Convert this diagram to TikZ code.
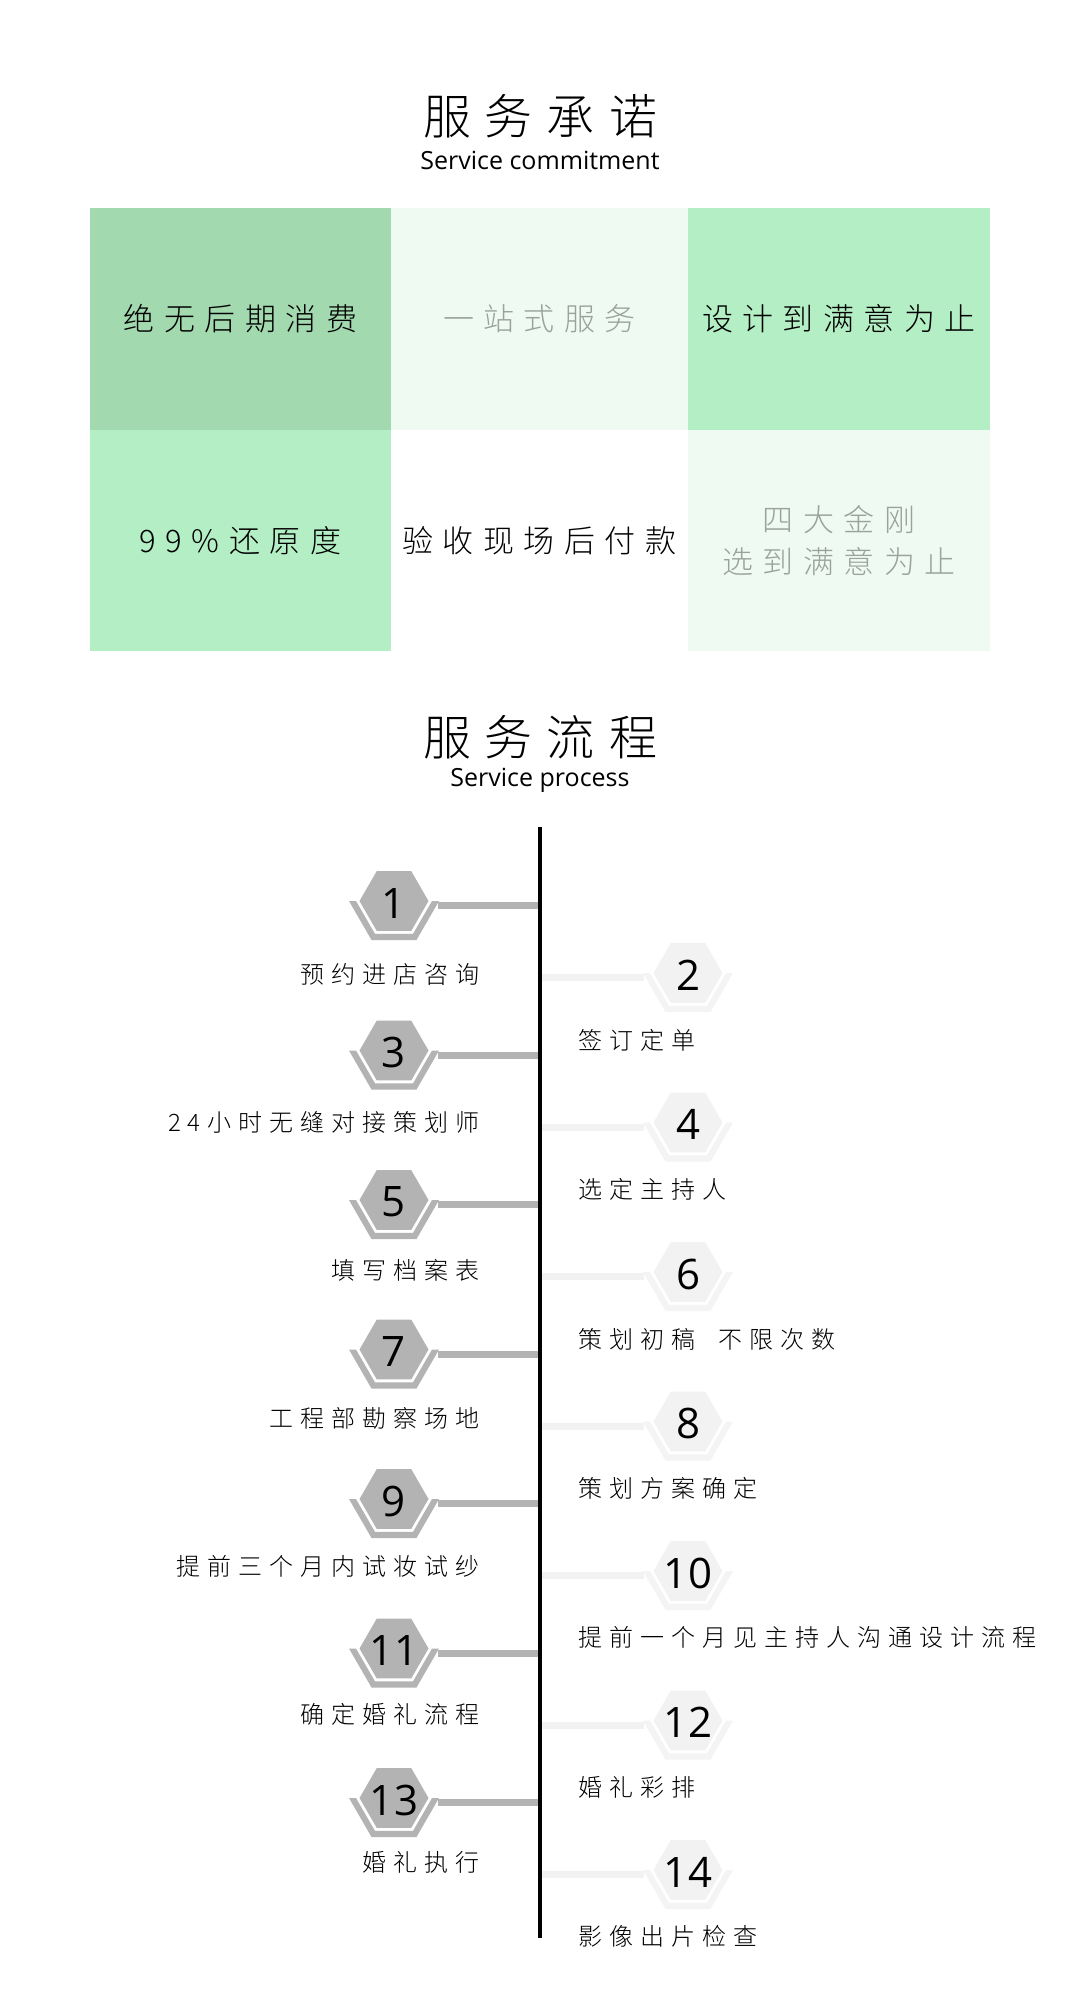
\documentclass[tikz,border=0pt]{standalone}
\usepackage{fontspec}
\IfFontExistsTF{Noto Sans CJK SC Light}
  {\setmainfont{Noto Sans CJK SC Light}}
  {\setmainfont{Noto Sans CJK SC}}
\newfontfamily\latfont{Open Sans}
\definecolor{cA}{HTML}{A3D9AF}
\definecolor{cB}{HTML}{B4EEC4}
\definecolor{cC}{HTML}{EFFAF2}
\definecolor{gtext}{HTML}{99A39C}
\definecolor{oddhex}{HTML}{B3B3B3}
\definecolor{evenhex}{HTML}{F2F2F2}
\definecolor{evenband}{HTML}{F4F4F4}
% letter spacing without trailing space
\def\spcamt{0pt}
\newcommand\spc[2]{\def\spcamt{#1}\spcfirst#2\relax}
\def\spcfirst#1{\ifx\relax#1\else#1\expandafter\spcnext\fi}
\def\spcnext#1{\ifx\relax#1\else\kern\spcamt\relax#1\expandafter\spcnext\fi}
\def\GAP{\hspace*{9pt}}
\tikzset{
  cell/.style={inner sep=0pt, outer sep=0pt, minimum height=221.5, align=center,
    font=\fontsize{31}{42}\selectfont},
  titletxt/.style={inner sep=0pt, font=\fontsize{48}{56}\selectfont},
  subtxt/.style={inner sep=0pt, font=\latfont\fontsize{25}{29}\selectfont},
  numtxt/.style={inner sep=0pt, font=\latfont\fontsize{42}{48}\selectfont, text=black},
  lab/.style={inner sep=0pt, font=\fontsize{24}{28}\selectfont, text=black},
  oddbar/.style={draw=oddhex, line width=7pt},
  evenbar/.style={draw=evenhex, line width=7pt},
  spine/.style={draw=black, line width=4.5pt}
}
\newcommand\hexband[3]{%
  \fill[#3] (#1-45,#2) -- (#1-22.5,#2+39) -- (#1+22.5,#2+39) -- (#1+45,#2)
    -- (#1+38,#2) -- (#1+19,#2+32.9) -- (#1-19,#2+32.9) -- (#1-38,#2) -- cycle;}
\newcommand\hexfill[3]{%
  \fill[#3] (#1+34.5,#2) -- (#1+17.25,#2-29.9) -- (#1-17.25,#2-29.9)
    -- (#1-34.5,#2) -- (#1-17.25,#2+29.9) -- (#1+17.25,#2+29.9) -- cycle;}
\newcommand\stepL[4]{%
  \hexband{394}{#2}{oddhex}
  \hexfill{394}{#2}{oddhex}
  \node[numtxt] (h#1) at (394,#2+2) {#1};
  \coordinate (s#1) at (394+44,#2+4.5);
  \coordinate (t#1) at (540,#2+4.5);
  \draw[oddbar] (s#1) -- (t#1);
  \node[lab, anchor=east] (l#1) at (480,#3) {\spc{7pt}{#4}};}
\newcommand\stepR[4]{%
  \hexband{688}{#2}{evenband}
  \hexfill{688}{#2}{evenhex}
  \node[numtxt] (h#1) at (688,#2+2) {#1};
  \coordinate (s#1) at (688-44,#2+4.5);
  \coordinate (t#1) at (542,#2+4.5);
  \draw[evenbar] (t#1) -- (s#1);
  \node[lab, anchor=west] (l#1) at (578,#3) {\spc{7pt}{#4}};}
\begin{document}
\begin{tikzpicture}[x=1pt,y=-1pt]
\useasboundingbox (0,0) rectangle (1080,2000);
\fill[white] (0,0) rectangle (1080,2000);
% titles
\node[titletxt] (t1) at (540,116) {\spc{14pt}{服务承诺}};
\node[subtxt] (t1s) at (540,160) {Service commitment};
% grid
\node[cell, fill=cA, minimum width=301] (c11) at (240.5,318.75) {\spc{9.5pt}{绝无后期消费}};
\node[cell, fill=cC, minimum width=297, text=gtext] (c12) at (539.5,318.75) {\spc{9.5pt}{一站式服务}};
\node[cell, fill=cB, minimum width=302] (c13) at (839,318.75) {\spc{9.5pt}{设计到满意为止}};
\node[cell, fill=cB, minimum width=301] (c21) at (240.5,540.25) {\spc{9.5pt}{99\%还原度}};
\node[cell, fill=white, minimum width=297] (c22) at (539.5,540.25) {\spc{9.5pt}{验收现场后付款}};
\node[cell, fill=cC, minimum width=302, text=gtext] (c23) at (839,540.25) {\spc{9.5pt}{四大金刚}\\\spc{9.5pt}{选到满意为止}};
% process title
\node[titletxt] (t2) at (540,737) {\spc{14pt}{服务流程}};
\node[subtxt] (t2s) at (540,780) {Service process};
% steps
\stepL{1}{901}{974.5}{预约进店咨询}
\stepR{2}{973}{1040.5}{签订定单}
\stepL{3}{1050.5}{1122.4}{24小时无缝对接策划师}
\stepR{4}{1122.5}{1189.8}{选定主持人}
\stepL{5}{1200}{1270.3}{填写档案表}
\stepR{6}{1272}{1339.1}{策划初稿\GAP 不限次数}
\stepL{7}{1349.5}{1418.2}{工程部勘察场地}
\stepR{8}{1421.5}{1488.4}{策划方案确定}
\stepL{9}{1499}{1566.1}{提前三个月内试妆试纱}
\stepR{10}{1571}{1637.7}{提前一个月见主持人沟通设计流程}
\stepL{11}{1648.5}{1714}{确定婚礼流程}
\stepR{12}{1720.5}{1787}{婚礼彩排}
\stepL{13}{1798}{1862}{婚礼执行}
\stepR{14}{1870}{1936.3}{影像出片检查}
% spine
\coordinate (top) at (540,827);
\coordinate (bot) at (540,1938);
\draw[spine] (top) -- (bot);
\end{tikzpicture}
\end{document}
